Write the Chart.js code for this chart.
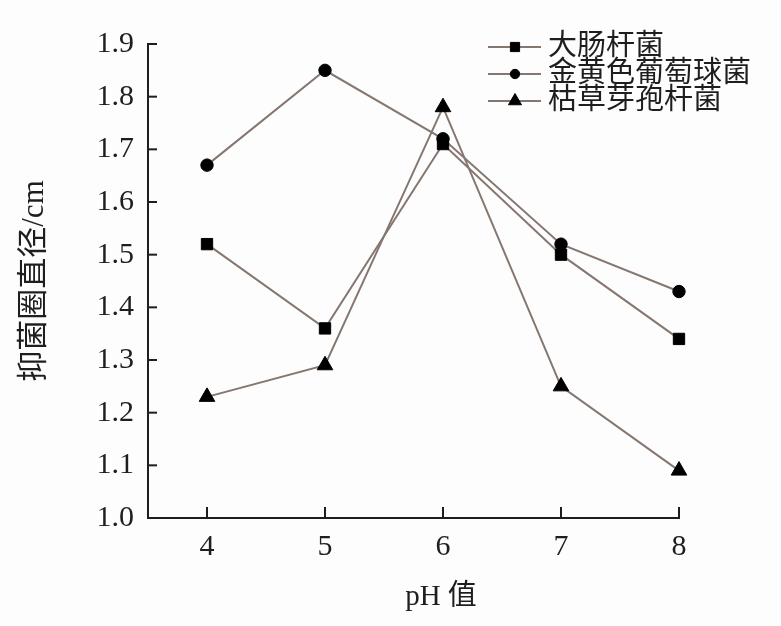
<!DOCTYPE html>
<html>
<head>
<meta charset="utf-8">
<script src="https://cdn.jsdelivr.net/npm/chart.js@4.4.1/dist/chart.umd.min.js"></script>
<style>
  html, body { margin: 0; padding: 0; background: #fdfdfd; }
  #wrap { width: 781px; height: 626px; position: relative; }
</style>
</head>
<body>
<div id="wrap"><canvas id="phChart"></canvas></div>
<script>
// pH values on the x axis
const phValues = [4, 5, 6, 7, 8];
const yTicks = [1.0, 1.1, 1.2, 1.3, 1.4, 1.5, 1.6, 1.7, 1.8, 1.9];

// inhibition zone diameter (cm) for each strain
const seriesNames = ['大肠杆菌', '金黄色葡萄球菌', '枯草芽孢杆菌'];
const ecoli = [1.52, 1.36, 1.71, 1.50, 1.34];
const staph = [1.67, 1.85, 1.72, 1.52, 1.43];
const subtilis = [1.23, 1.29, 1.78, 1.25, 1.09];

const lineColor = '#85776f';
const inkColor = '#1e1e1e';
const fontStack = "'Liberation Serif', 'Noto Sans CJK SC', serif";

function toPoints(values) {
    return phValues.map((x, i) => ({ x: x, y: values[i] }));
}

const markers = [
    { style: 'rect', radius: 8 },
    { style: 'circle', radius: 6.2 },
    { style: 'triangle', radius: 9 }
];

const datasets = [ecoli, staph, subtilis].map((vals, i) => ({
    label: seriesNames[i],
    data: toPoints(vals),
    borderColor: lineColor,
    borderWidth: 2,
    backgroundColor: '#000',
    pointBackgroundColor: '#000',
    pointBorderColor: '#000',
    pointBorderWidth: 1,
    pointStyle: markers[i].style,
    pointRadius: markers[i].radius,
    clip: false,
    tension: 0
}));

// inward tick marks, custom legend (line + marker) and x title
const extrasPlugin = {
    id: 'extras',
    afterDraw(chart) {
        const ctx = chart.ctx;
        const xs = chart.scales.x, ys = chart.scales.y;
        const area = chart.chartArea;
        ctx.save();
        ctx.strokeStyle = inkColor;
        ctx.lineWidth = 2;
        ys.ticks.forEach(t => {
            const py = ys.getPixelForValue(t.value);
            ctx.beginPath();
            ctx.moveTo(area.left, py);
            ctx.lineTo(area.left + 9, py);
            ctx.stroke();
        });
        xs.ticks.forEach(t => {
            const px = xs.getPixelForValue(t.value);
            ctx.beginPath();
            ctx.moveTo(px, area.bottom);
            ctx.lineTo(px, area.bottom - 11);
            ctx.stroke();
        });

        // legend
        const rows = [47, 74, 101];
        ctx.font = "29px " + fontStack;
        ctx.textBaseline = 'middle';
        ctx.textAlign = 'left';
        chart.data.datasets.forEach((ds, i) => {
            const y = rows[i];
            ctx.strokeStyle = lineColor;
            ctx.lineWidth = 2;
            ctx.beginPath();
            ctx.moveTo(488, y);
            ctx.lineTo(541, y);
            ctx.stroke();
            ctx.fillStyle = '#000';
            ctx.strokeStyle = '#000';
            ctx.lineWidth = 1;
            Chart.helpers.drawPoint(ctx, { pointStyle: ds.pointStyle, radius: ds.pointRadius - 1.5, borderWidth: 1, rotation: 0 }, 515, y);
            ctx.fillStyle = inkColor;
            ctx.fillText(ds.label, 548, y);
        });

        // x axis title
        ctx.font = "29px " + fontStack;
        ctx.fillStyle = inkColor;
        ctx.textAlign = 'center';
        ctx.fillText('pH 值', 441, 597);
        ctx.restore();
    }
};

new Chart(document.getElementById('phChart'), {
    type: 'line',
    data: { datasets: datasets },
    options: {
        responsive: true,
        maintainAspectRatio: false,
        animation: false,
        layout: { padding: { top: 44, right: 102, left: 0, bottom: 0 } },
        scales: {
            x: {
                type: 'linear',
                min: 3.5,
                max: 8,
                afterBuildTicks: s => { s.ticks = phValues.map(v => ({ value: v })); },
                afterFit: s => { s.height = 108; },
                grid: { display: false, drawTicks: false },
                border: { display: true, color: inkColor, width: 2 },
                ticks: {
                    color: inkColor,
                    padding: 11,
                    font: { family: fontStack, size: 30 }
                }
            },
            y: {
                min: 1.0,
                max: 1.9,
                afterBuildTicks: s => { s.ticks = yTicks.map(v => ({ value: v })); },
                afterFit: s => { s.width = 148; },
                grid: { display: false, drawTicks: false },
                border: { display: true, color: inkColor, width: 2 },
                ticks: {
                    color: inkColor,
                    padding: 14,
                    font: { family: fontStack, size: 30 },
                    callback: v => v.toFixed(1)
                },
                title: {
                    display: true,
                    text: '抑菌圈直径/cm',
                    color: inkColor,
                    padding: { top: 16, bottom: 0 },
                    font: { family: fontStack, size: 31 }
                }
            }
        },
        plugins: {
            legend: { display: false },
            tooltip: { enabled: false }
        }
    },
    plugins: [extrasPlugin]
});
</script>
</body>
</html>
